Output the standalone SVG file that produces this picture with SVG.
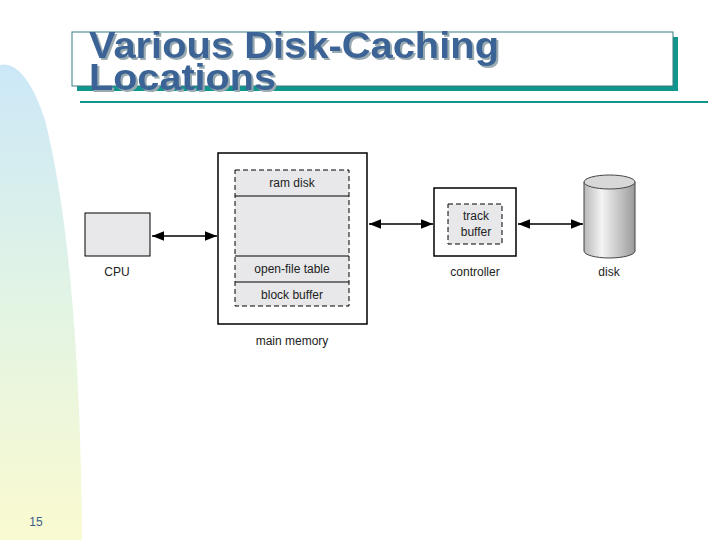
<svg xmlns="http://www.w3.org/2000/svg" width="720" height="540" viewBox="0 0 720 540">
<defs>
<linearGradient id="bg" x1="0" y1="0" x2="0" y2="1"><stop offset="0" stop-color="#cce8f8"/><stop offset="0.5" stop-color="#e2f4e4"/><stop offset="1" stop-color="#fafad0"/></linearGradient>
<linearGradient id="cyl" x1="0" y1="0" x2="1" y2="0"><stop offset="0" stop-color="#b8b8b8"/><stop offset="0.35" stop-color="#f4f4f4"/><stop offset="1" stop-color="#9a9a9a"/></linearGradient>
<filter id="sh" x="-5%" y="-20%" width="110%" height="140%"><feDropShadow dx="2" dy="2" stdDeviation="0" flood-color="#99aab0"/></filter>
<marker id="ah" viewBox="0 0 10 10" refX="10" refY="5" markerWidth="8" markerHeight="8" orient="auto-start-reverse"><path d="M0,1 L10,5 L0,9 Z" fill="#000"/></marker>
<style>
.lbl{font-family:"Liberation Sans",Arial,sans-serif;font-size:12px;fill:#222;text-anchor:middle}
.box{fill:#fff;stroke:#000;stroke-width:1.5}
.dash{fill:#e8e8ea;stroke:#000;stroke-width:1;stroke-dasharray:5,3}
.conn{stroke:#000;stroke-width:1.5;fill:none;marker-start:url(#ah);marker-end:url(#ah)}
</style>
</defs>
<rect width="720" height="540" fill="#fff"/>
<path d="M0,65 Q25,60 45,120 Q80,260 82,540 L0,540 Z" fill="url(#bg)"/>
<text x="36" y="526" font-family="Liberation Sans,Arial,sans-serif" font-size="12" fill="#3a5f8a" text-anchor="middle">15</text>
<g id="title">
<rect x="77" y="37" width="601" height="54" fill="#10968c"/>
<rect x="72" y="32" width="601" height="54" fill="#fff" stroke="#3a7c80" stroke-width="1"/>
<line x1="80" y1="102" x2="708" y2="102" stroke="#10968c" stroke-width="2"/>
<g font-family="Liberation Sans,Arial,sans-serif" font-weight="bold" font-size="37" fill="#3a6496" filter="url(#sh)">
<text x="89" y="58" textLength="410" lengthAdjust="spacingAndGlyphs">Various Disk-Caching</text>
<text x="89" y="90" textLength="187" lengthAdjust="spacingAndGlyphs">Locations</text>
</g>
</g>
<g id="connectors">
<line class="conn" x1="152" y1="236" x2="217" y2="236"/>
<line class="conn" x1="369" y1="224" x2="433" y2="224"/>
<line class="conn" x1="518" y1="224" x2="583" y2="224"/>
</g>
<g id="cpu">
<rect x="85" y="213" width="65" height="43" fill="#e8e8ea" stroke="#000" stroke-width="1"/>
<text class="lbl" x="117" y="276">CPU</text>
</g>
<g id="main-memory">
<rect class="box" x="218" y="153" width="149" height="171"/>
<rect class="dash" x="235" y="170" width="114" height="136"/>
<line x1="235" y1="196" x2="349" y2="196" stroke="#000"/>
<line x1="235" y1="256" x2="349" y2="256" stroke="#000"/>
<line x1="235" y1="282" x2="349" y2="282" stroke="#000"/>
<text class="lbl" x="292" y="187">ram disk</text>
<text class="lbl" x="292" y="273">open-file table</text>
<text class="lbl" x="292" y="299">block buffer</text>
<text class="lbl" x="292" y="345">main memory</text>
</g>
<g id="controller">
<rect class="box" x="434" y="188" width="82" height="68"/>
<rect class="dash" x="448" y="204" width="54" height="40"/>
<text class="lbl" x="476" y="220">track</text>
<text class="lbl" x="476" y="236">buffer</text>
<text class="lbl" x="475" y="276">controller</text>
</g>
<g id="disk">
<path d="M584,182 L584,251 A25.5,7 0 0 0 635,251 L635,182 Z" fill="url(#cyl)" stroke="#444" stroke-width="1"/>
<ellipse cx="609.5" cy="182" rx="25.5" ry="7" fill="#d8d8d8" stroke="#444" stroke-width="1"/>
<text class="lbl" x="609" y="276">disk</text>
</g>
</svg>
